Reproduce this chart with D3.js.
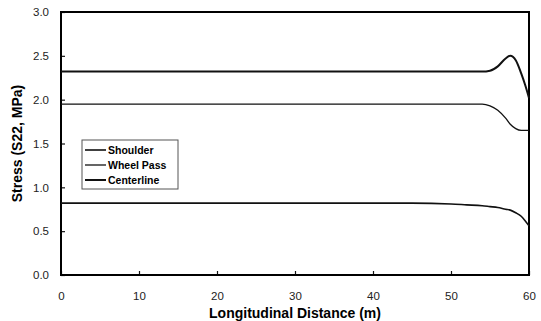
<!DOCTYPE html>
<html>
<head>
<meta charset="utf-8">
<script src="https://cdn.jsdelivr.net/npm/d3@7"></script>
<style>
  body { margin: 0; background: #fff; }
  text { font-family: "Liberation Sans", Arial, sans-serif; }
</style>
</head>
<body>
<div id="vis-container"></div>
<script>
// data
var xTicks = [0, 10, 20, 30, 40, 50, 60];
var yTicks = [0.0, 0.5, 1.0, 1.5, 2.0, 2.5, 3.0];

var distance = [0, 10, 20, 30, 40, 45, 50, 52, 54, 55, 56, 57, 57.6, 58.3, 59, 59.5, 60];
var centerline = [2.32, 2.32, 2.32, 2.32, 2.32, 2.32, 2.32, 2.32, 2.32, 2.33, 2.38, 2.47, 2.50, 2.45, 2.30, 2.17, 2.02];
var wheelPass = [1.95, 1.95, 1.95, 1.95, 1.95, 1.95, 1.95, 1.95, 1.95, 1.93, 1.88, 1.79, 1.72, 1.67, 1.65, 1.65, 1.65];
var shoulder = [0.82, 0.82, 0.82, 0.82, 0.82, 0.82, 0.81, 0.80, 0.79, 0.78, 0.77, 0.75, 0.74, 0.71, 0.67, 0.62, 0.56];

var seriesNames = ["Shoulder", "Wheel Pass", "Centerline"];

var width = 541, height = 321;
var mLeft = 61, mRight = 529, mTop = 12, mBottom = 275;

var svg = d3.select("#vis-container")
	.append("svg")
	.attr("width", width)
	.attr("height", height);

var x = d3.scaleLinear().domain([0, 60]).range([mLeft, mRight]);
var y = d3.scaleLinear().domain([0, 3]).range([mBottom, mTop]);

// axes with inward ticks
svg.append("g")
	.attr("transform", "translate(0," + mBottom + ")")
	.call(d3.axisBottom(x).tickValues(xTicks).tickSizeInner(-4).tickSizeOuter(0).tickPadding(17))
	.call(function (g) { g.select(".domain").remove(); });

svg.append("g")
	.attr("transform", "translate(" + mLeft + ",0)")
	.call(d3.axisLeft(y).tickValues(yTicks).tickFormat(d3.format(".1f")).tickSizeInner(-4).tickSizeOuter(0).tickPadding(12))
	.call(function (g) { g.select(".domain").remove(); });

svg.selectAll(".tick text")
	.attr("font-size", 11.5)
	.attr("fill", "#222");
svg.selectAll(".tick line")
	.attr("stroke", "#111")
	.attr("stroke-width", 1.2);

// frame
svg.append("rect")
	.attr("x", mLeft)
	.attr("y", mTop)
	.attr("width", mRight - mLeft)
	.attr("height", mBottom - mTop)
	.attr("fill", "none")
	.attr("stroke", "#000")
	.attr("stroke-width", 2);

var line = d3.line()
	.x(function (d, i) { return x(distance[i]); })
	.y(function (d) { return y(d); })
	.curve(d3.curveMonotoneX);

var data = [shoulder, wheelPass, centerline];
var widths = [1.6, 1.3, 2];

for (var i = 0; i < data.length; ++i) {
	svg.append("path")
		.attr("d", line(data[i]))
		.attr("fill", "none")
		.attr("stroke", "#111")
		.attr("stroke-width", widths[i]);
}

// legend
var legend = svg.append("g").attr("transform", "translate(82,140)");
legend.append("rect")
	.attr("x", 0).attr("y", 0)
	.attr("width", 96).attr("height", 49)
	.attr("fill", "#fff")
	.attr("stroke", "#555")
	.attr("stroke-width", 1);

for (var i = 0; i < seriesNames.length; ++i) {
	var ly = 10 + i * 15;
	legend.append("line")
		.attr("x1", 3).attr("x2", 24)
		.attr("y1", ly).attr("y2", ly)
		.attr("stroke", "#111")
		.attr("stroke-width", widths[i]);
	legend.append("text")
		.attr("x", 26).attr("y", ly + 4)
		.attr("font-size", 10.5)
		.attr("font-weight", "bold")
		.text(seriesNames[i]);
}

// axis titles
svg.append("text")
	.attr("x", (mLeft + mRight) / 2)
	.attr("y", 318)
	.attr("text-anchor", "middle")
	.attr("font-size", 14)
	.attr("font-weight", "bold")
	.text("Longitudinal Distance (m)");

svg.append("text")
	.attr("transform", "translate(22," + (mTop + mBottom) / 2 + ") rotate(-90)")
	.attr("text-anchor", "middle")
	.attr("font-size", 14)
	.attr("font-weight", "bold")
	.text("Stress (S22, MPa)");
</script>
</body>
</html>
